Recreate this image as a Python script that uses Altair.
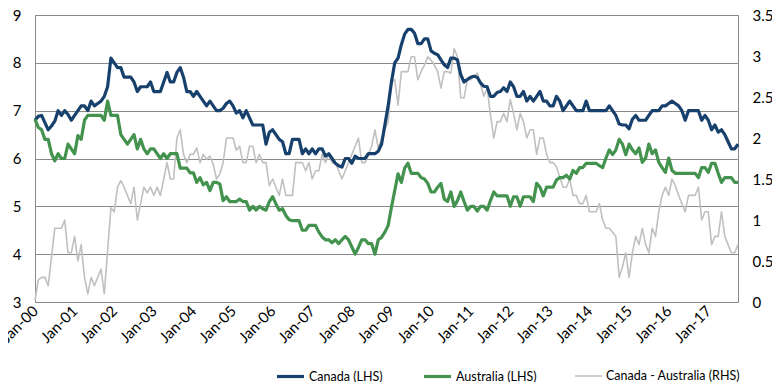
import altair as alt
import pandas as pd

# ---- data (monthly, Jan-2000 .. Oct-2017) ----
canada = [
    6.8, 6.88, 6.9, 6.75, 6.6, 6.68, 6.78, 7.0, 6.9, 7.0, 6.92, 6.8,
    6.9, 7.0, 7.1, 7.1, 7.0, 7.2, 7.1, 7.15, 7.2, 7.3, 7.5, 8.1,
    8.0, 7.9, 7.9, 7.7, 7.7, 7.7, 7.6, 7.4, 7.5, 7.5, 7.5, 7.6,
    7.4, 7.4, 7.4, 7.6, 7.8, 7.6, 7.6, 7.8, 7.9, 7.7, 7.4, 7.4,
    7.3, 7.4, 7.3, 7.2, 7.1, 7.2, 7.1, 7.0, 7.0, 7.05, 7.15, 7.2,
    7.1, 6.95, 7.0, 6.85, 7.0, 6.85, 6.7, 6.7, 6.7, 6.7, 6.3, 6.55,
    6.6, 6.5, 6.4, 6.35, 6.1, 6.1, 6.4, 6.4, 6.4, 6.1, 6.2, 6.1,
    6.2, 6.1, 6.2, 6.2, 6.05, 6.1, 6.0, 5.9, 5.85, 5.82, 6.0, 6.0,
    5.9, 6.05, 6.0, 6.0, 6.0, 6.1, 6.1, 6.1, 6.15, 6.3, 6.7, 7.1,
    7.6, 8.0, 8.1, 8.38, 8.6, 8.7, 8.7, 8.62, 8.4, 8.4, 8.5, 8.5,
    8.25, 8.2, 8.17, 8.06, 7.96, 7.9, 8.1, 8.1, 8.06, 7.75, 7.6, 7.65,
    7.7, 7.72, 7.7, 7.58, 7.51, 7.5, 7.3, 7.3, 7.38, 7.4, 7.48, 7.4,
    7.6, 7.5, 7.3, 7.3, 7.4, 7.2, 7.3, 7.2, 7.3, 7.4, 7.2, 7.2,
    7.1, 7.1, 7.3, 7.2, 7.0, 7.1, 7.2, 7.1, 7.0, 7.0, 7.0, 7.2,
    7.0, 7.0, 7.0, 7.0, 7.0, 7.0, 7.1, 7.0, 6.9, 6.72, 6.7, 6.7,
    6.62, 6.82, 6.9, 6.8, 6.8, 6.8, 6.9, 7.0, 7.0, 7.0, 7.1, 7.1,
    7.15, 7.2, 7.15, 7.1, 7.0, 6.8, 7.0, 7.0, 7.0, 7.0, 6.8, 6.9,
    6.8, 6.6, 6.7, 6.55, 6.6, 6.5, 6.35, 6.2, 6.2, 6.3,
]
australia = [
    6.82, 6.65, 6.6, 6.4, 6.4, 6.1, 5.95, 6.1, 6.0, 6.0, 6.3, 6.2,
    6.1, 6.48, 6.4, 6.8, 6.9, 6.9, 6.9, 6.9, 6.9, 6.8, 7.2, 6.9,
    6.9, 6.9, 6.5, 6.4, 6.3, 6.4, 6.5, 6.2, 6.4, 6.2, 6.1, 6.2,
    6.2, 6.1, 6.0, 6.1, 6.0, 6.1, 6.1, 6.1, 5.8, 5.8, 5.8, 5.7,
    5.7, 5.5, 5.6, 5.45, 5.5, 5.33, 5.5, 5.5, 5.47, 5.12, 5.2, 5.1,
    5.1, 5.1, 5.15, 5.1, 5.1, 4.92, 5.0, 4.92, 5.0, 4.95, 4.92, 5.1,
    5.2, 5.05, 4.92, 4.95, 4.81, 4.72, 4.7, 4.7, 4.7, 4.5, 4.5, 4.6,
    4.6, 4.6, 4.46, 4.36, 4.3, 4.3, 4.24, 4.3, 4.22, 4.3, 4.37, 4.3,
    4.15, 4.0, 4.14, 4.3, 4.3, 4.22, 4.22, 4.0, 4.3, 4.35, 4.46, 4.6,
    4.98, 5.33, 5.68, 5.5, 5.8, 5.9, 5.69, 5.69, 5.69, 5.6, 5.57, 5.48,
    5.3, 5.3, 5.4, 5.48, 5.15, 5.1, 5.3, 5.0, 5.12, 5.3, 5.1, 4.92,
    5.0, 5.0, 4.9, 5.0, 5.0, 4.92, 5.12, 5.3, 5.22, 5.22, 5.22, 5.22,
    5.0, 5.2, 5.2, 5.0, 5.2, 5.2, 5.2, 5.1, 5.48, 5.4, 5.22, 5.4,
    5.4, 5.4, 5.55, 5.6, 5.6, 5.65, 5.57, 5.75, 5.69, 5.81, 5.81, 5.9,
    5.9, 5.9, 5.9, 5.85, 5.81, 6.01, 6.18, 6.08, 6.18, 6.4, 6.3, 6.08,
    6.3, 6.18, 6.1, 6.22, 5.92, 6.01, 6.3, 6.1, 6.18, 5.92, 5.81, 5.71,
    6.01, 5.75, 5.69, 5.69, 5.69, 5.69, 5.69, 5.69, 5.69, 5.6, 5.81, 5.81,
    5.71, 5.9, 5.9, 5.69, 5.5, 5.6, 5.6, 5.6, 5.5, 5.5,
]
spread = [
    0.02, 0.27, 0.3, 0.3, 0.2, 0.55, 0.9, 0.9, 0.9, 1.0, 0.6, 0.6,
    0.8, 0.5, 0.7, 0.3, 0.1, 0.3, 0.2, 0.3, 0.4, 0.1, 0.63, 1.15,
    1.1, 1.4, 1.48, 1.4, 1.3, 1.2, 1.4, 1.0, 1.2, 1.4, 1.33, 1.4,
    1.3, 1.4, 1.3, 1.5, 1.7, 1.5, 1.5, 2.0, 2.1, 1.8, 1.7, 1.8,
    1.8, 1.88, 1.7, 1.8, 1.74, 1.78, 1.68, 1.5, 1.56, 1.7, 2.0, 2.0,
    2.0, 1.85, 1.9, 1.7, 1.7, 1.9, 1.9, 1.7, 1.8, 1.7, 1.7, 1.42,
    1.5, 1.4, 1.3, 1.5, 1.3, 1.3, 1.3, 1.7, 1.7, 1.7, 1.6, 1.7,
    1.5, 1.6, 1.6, 1.8, 1.7, 1.8, 1.7, 1.7, 1.6, 1.5, 1.6, 1.7,
    1.8, 1.9, 2.0, 1.7, 1.7, 1.8, 1.9, 2.1, 1.88, 1.98, 2.1, 2.2,
    2.69, 2.71, 2.4, 2.81, 2.81, 2.81, 2.99, 2.99, 2.71, 2.81, 2.89, 2.99,
    2.95, 2.89, 2.81, 2.61, 2.81, 2.81, 2.79, 3.09, 2.99, 2.49, 2.49, 2.71,
    2.71, 2.75, 2.79, 2.65, 2.51, 2.61, 2.28, 2.0, 2.2, 2.2, 2.3, 2.2,
    2.47, 2.3, 2.1, 2.3, 2.2, 2.0, 2.1, 2.1, 1.8, 2.0, 2.0, 1.8,
    1.7, 1.7, 1.65, 1.52, 1.4, 1.4, 1.5, 1.3, 1.3, 1.2, 1.2, 1.3,
    1.1, 1.1, 1.1, 1.2, 1.0, 0.9, 0.9, 0.85, 0.8, 0.3, 0.43, 0.6,
    0.3, 0.6, 0.8, 0.7, 0.9, 0.7, 0.6, 0.9, 0.8, 1.1, 1.3, 1.4,
    1.3, 1.5, 1.42, 1.3, 1.2, 1.1, 1.3, 1.3, 1.3, 1.4, 1.0, 1.1,
    1.1, 0.7, 0.8, 0.8, 1.1, 0.8, 0.7, 0.6, 0.6, 0.7,
]

series_names = ["Canada (LHS)", "Australia (LHS)", "Canada - Australia (RHS)"]
series_colors = ["#17406D", "#43934F", "#C0C0C0"]
series_widths = [3.2, 3.2, 1.6]
year_labels = ["Jan-00", "Jan-01", "Jan-02", "Jan-03", "Jan-04", "Jan-05",
               "Jan-06", "Jan-07", "Jan-08", "Jan-09", "Jan-10", "Jan-11",
               "Jan-12", "Jan-13", "Jan-14", "Jan-15", "Jan-16", "Jan-17"]
left_ticks = [3, 4, 5, 6, 7, 8, 9]
right_ticks = [0, 0.5, 1, 1.5, 2, 2.5, 3, 3.5]


def frame(values, name):
    return pd.DataFrame({"month": list(range(len(values))), "value": values, "series": name})


lhs = pd.concat([frame(canada, series_names[0]), frame(australia, series_names[1])])
rhs = frame(spread, series_names[2])

n = max(len(canada), len(australia), len(spread))
tick_values = [12 * i for i in range(len(year_labels))]
label_expr = "[" + ",".join("'%s'" % s for s in year_labels) + "][round(datum.value / 12)]"

grid_col = "#8A8A8A"
FS = 15

x_scale = alt.Scale(domain=[0, n - 1], nice=False, zero=False)
x_axis_bottom = alt.Axis(
    orient="bottom", values=tick_values, labelExpr=label_expr, labelAngle=315,
    labelAlign="right", labelBaseline="middle", labelPadding=6, ticks=False,
    grid=False, title=None, domainColor=grid_col, labelFontSize=FS,
    labelColor="#000000", labelOverlap=False,
)
x_axis_top = alt.Axis(
    orient="top", values=tick_values, labels=False, ticks=False, grid=False,
    title=None, domainColor=grid_col,
)

legend_kw = dict(
    title=None, orient="none", legendX=240, legendY=346, direction="horizontal",
    symbolType="stroke", symbolSize=729, labelFontSize=12.5, columnPadding=34,
    labelOffset=3, labelColor="#000000",
)
color_enc = alt.Color(
    "series:N",
    scale=alt.Scale(domain=series_names, range=series_colors),
    legend=alt.Legend(**legend_kw),
)
width_enc = alt.StrokeWidth(
    "series:N",
    scale=alt.Scale(type="ordinal", domain=series_names, range=series_widths),
    legend=alt.Legend(**legend_kw),
)

right_layer = alt.Chart(rhs).mark_line(strokeJoin="round").encode(
    x=alt.X("month:Q", scale=x_scale, axis=x_axis_top),
    y=alt.Y(
        "value:Q",
        scale=alt.Scale(domain=[0, 3.5], nice=False, zero=False),
        axis=alt.Axis(orient="right", values=right_ticks, format="~g", title=None,
                      grid=False, ticks=False, labelPadding=14, domainColor=grid_col,
                      labelFontSize=FS, labelColor="#000000"),
    ),
    color=color_enc,
    strokeWidth=width_enc,
)

left_layer = alt.Chart(lhs).mark_line(strokeJoin="round").encode(
    x=alt.X("month:Q", scale=x_scale, axis=x_axis_bottom),
    y=alt.Y(
        "value:Q",
        scale=alt.Scale(domain=[3, 9], nice=False, zero=False),
        axis=alt.Axis(orient="left", values=left_ticks, format="~g", title=None, grid=True,
                      gridColor=grid_col, gridWidth=1, ticks=False, labelPadding=14,
                      domainColor=grid_col, labelFontSize=FS, labelColor="#000000"),
    ),
    color=color_enc,
    strokeWidth=width_enc,
    order=alt.Order("month:Q"),
)

chart = (
    alt.layer(right_layer, left_layer)
    .resolve_scale(y="independent")
    .resolve_axis(x="independent")
    .properties(
        width=703, height=287,
        autosize=alt.AutoSizeParams(type="none"),
        padding={"left": 27, "top": 7, "right": 34, "bottom": 80},
    )
    .configure(font="Lato")
    .configure_view(stroke=None)
    .configure_axis(labelFont="Lato")
    .configure_axisBottom(labelAngle=315)
    .configure_legend(labelFont="Lato")
)

chart.save("out.html", embed_options={"renderer": "svg", "actions": False})
